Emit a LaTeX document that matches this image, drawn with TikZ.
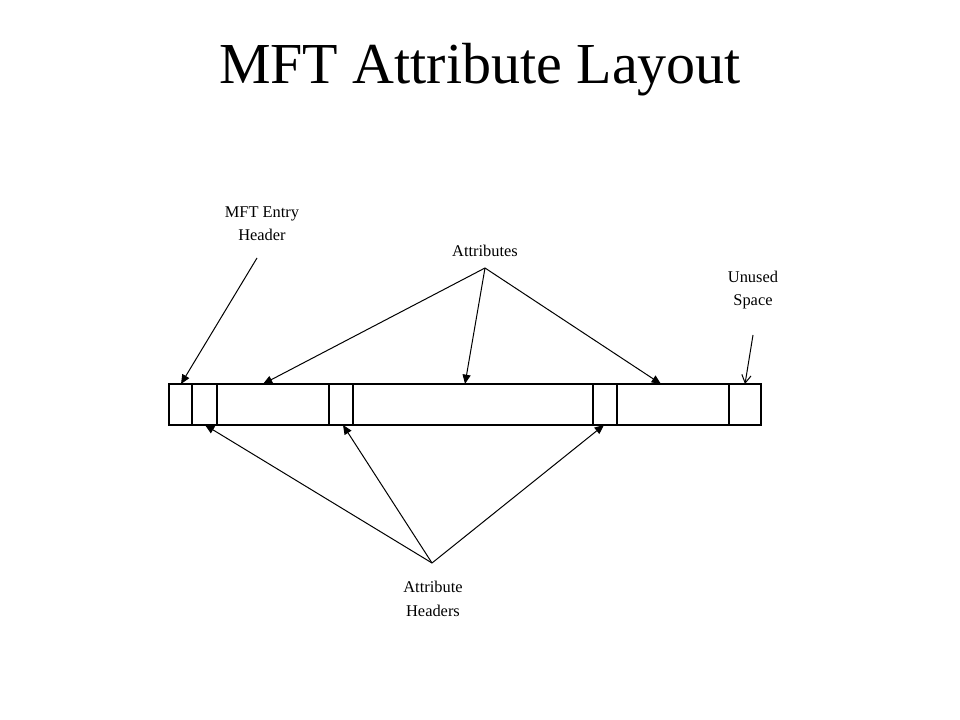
\documentclass[tikz,border=0pt]{standalone}
\usepackage{fontspec}
\setmainfont{Liberation Serif}
\usetikzlibrary{arrows.meta}
\begin{document}
\begin{tikzpicture}[x=0.75pt,y=-0.75pt,
  lbl/.style={align=center,font=\fontsize{12.3}{17.5}\selectfont,inner sep=0pt},
  arr/.style={-{Triangle[length=7pt,width=6pt]},line width=0.75pt},
  oarr/.style={-{Straight Barb[length=6pt,width=7pt]},line width=0.75pt}]
\useasboundingbox (0,0) rectangle (960,720);
\node[font=\fontsize{43.5}{50}\selectfont] (title) at (480,70) {MFT Attribute Layout};
\draw[line width=0.9pt] (169,384) rectangle (761,425);
\foreach \x in {192,217,329,353,593,617,729} \draw[line width=0.9pt] (\x,384) -- (\x,425);
\coordinate (e) at (181,384);
\coordinate (a1) at (263,384);
\coordinate (a2) at (465,384);
\coordinate (a3) at (661,384);
\coordinate (u) at (745,384);
\coordinate (h1) at (205,425);
\coordinate (h2) at (343,425);
\coordinate (h3) at (604,425);
\node[lbl] (mft) at (262,224) {MFT Entry\\Header};
\node[lbl] (attr) at (485,251) {Attributes};
\node[lbl] (un) at (753,290) {Unused\\Space};
\node[lbl] (ah) at (433,599) {Attribute\\Headers};
\coordinate (mftb) at (257,258);
\coordinate (attrb) at (485,268);
\coordinate (unb) at (753,335);
\coordinate (ahb) at (432,563);
\draw[arr] (mftb) -- (e);
\draw[arr] (attrb) -- (a1);
\draw[arr] (attrb) -- (a2);
\draw[arr] (attrb) -- (a3);
\draw[oarr] (unb) -- (u);
\draw[arr] (ahb) -- (h1);
\draw[arr] (ahb) -- (h2);
\draw[arr] (ahb) -- (h3);
\end{tikzpicture}
\end{document}
